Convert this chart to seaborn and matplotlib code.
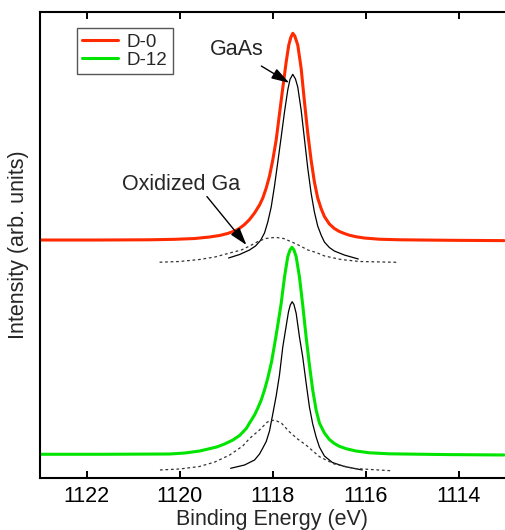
import numpy as np
import pandas as pd
import seaborn as sns
import matplotlib
matplotlib.use('Agg')
import matplotlib.pyplot as plt

# D-0 spectrum (red) and its fit components
d0_energy = [1123.000, 1121.712, 1120.639, 1120.103, 1119.674, 1119.352, 1119.137, 1118.966,
             1118.815, 1118.708, 1118.601, 1118.494, 1118.386, 1118.279, 1118.208, 1118.135,
             1118.064, 1117.994, 1117.921, 1117.850, 1117.779, 1117.706, 1117.650, 1117.607,
             1117.564, 1117.521, 1117.457, 1117.384, 1117.313, 1117.242, 1117.170, 1117.099,
             1117.028, 1116.955, 1116.884, 1116.777, 1116.670, 1116.562, 1116.455, 1116.348,
             1116.197, 1116.026, 1115.704, 1115.275, 1114.202, 1113.021]
d0_intensity = [51.07, 51.07, 51.12, 51.22, 51.39, 51.72, 52.04, 52.47,
                53.00, 53.58, 54.40, 55.47, 56.87, 58.58, 60.09, 62.23,
                64.81, 68.24, 72.53, 78.11, 83.69, 89.27, 92.92, 94.53,
                95.43, 94.85, 92.92, 87.92, 80.75, 74.03, 68.24, 63.52,
                60.09, 57.83, 56.12, 54.51, 53.54, 52.90, 52.47, 52.10,
                51.76, 51.50, 51.24, 51.12, 51.01, 50.94]

d0_gaas_energy = [1118.944, 1118.708, 1118.494, 1118.365, 1118.258, 1118.172, 1118.101, 1118.028,
                  1117.957, 1117.886, 1117.813, 1117.742, 1117.672, 1117.624, 1117.564, 1117.506,
                  1117.457, 1117.384, 1117.313, 1117.242, 1117.170, 1117.099, 1117.028, 1116.955,
                  1116.884, 1116.777, 1116.670, 1116.455, 1116.155]
d0_gaas_intensity = [47.21, 47.96, 48.93, 49.79, 50.97, 52.58, 54.94, 58.15,
                     62.66, 67.81, 73.18, 78.54, 83.26, 85.52, 86.63, 85.62,
                     83.91, 78.97, 72.75, 66.52, 61.16, 57.08, 54.08, 52.15,
                     50.64, 49.46, 48.71, 47.85, 47.00]

d0_ox_energy = [1120.47, 1120.00, 1119.57, 1119.24, 1118.92, 1118.67, 1118.49, 1118.32, 1118.15,
                1117.94, 1117.76, 1117.60, 1117.42, 1117.24, 1117.06, 1116.88, 1116.53, 1116.13,
                1115.34]
d0_ox_intensity = [46.29, 46.46, 46.89, 47.42, 48.28, 48.93, 49.79, 50.71, 51.39,
                   51.65, 51.39, 50.71, 49.89, 48.93, 48.39, 47.64, 46.89, 46.46,
                   46.29]

# D-12 spectrum (green) and its fit components
d12_energy = [1123.000, 1121.712, 1120.210, 1119.888, 1119.567, 1119.202, 1119.030, 1118.852,
              1118.708, 1118.564, 1118.494, 1118.386, 1118.315, 1118.242, 1118.172, 1118.101,
              1118.021, 1117.957, 1117.886, 1117.813, 1117.742, 1117.672, 1117.624, 1117.582,
              1117.539, 1117.491, 1117.421, 1117.350, 1117.277, 1117.206, 1117.135, 1117.062,
              1116.991, 1116.884, 1116.777, 1116.670, 1116.562, 1116.412, 1116.204, 1115.918,
              1115.489, 1114.202, 1113.021]
d12_intensity = [5.09, 5.09, 5.15, 5.36, 5.79, 6.65, 7.30, 8.15,
                 9.12, 10.62, 11.80, 13.52, 15.02, 16.74, 18.88, 21.46,
                 24.89, 28.54, 32.83, 37.49, 43.13, 47.49, 48.93, 49.51,
                 48.93, 47.49, 43.20, 37.12, 30.26, 24.25, 18.88, 14.59,
                 11.80, 9.66, 8.26, 7.40, 6.80, 6.27, 5.79, 5.41,
                 5.19, 5.02, 4.94]

d12_gaas_energy = [1118.901, 1118.601, 1118.386, 1118.279, 1118.208, 1118.135, 1118.064, 1117.994,
                   1117.921, 1117.850, 1117.779, 1117.706, 1117.657, 1117.618, 1117.577, 1117.539,
                   1117.491, 1117.421, 1117.350, 1117.277, 1117.206, 1117.135, 1117.062, 1116.991,
                   1116.884, 1116.712, 1116.455, 1116.069]
d12_gaas_intensity = [2.08, 2.79, 3.86, 5.15, 6.44, 7.83, 10.09, 13.73,
                      17.60, 22.10, 28.11, 32.62, 35.62, 37.12, 37.83, 37.23,
                      35.34, 30.32, 25.97, 20.39, 15.24, 11.59, 8.80, 6.65,
                      4.72, 3.33, 2.47, 1.72]

d12_ox_energy = [1120.42, 1120.00, 1119.57, 1119.24, 1118.92, 1118.64, 1118.49, 1118.28, 1118.11,
                 1117.96, 1117.81, 1117.64, 1117.46, 1117.28, 1116.99, 1116.67, 1116.24, 1115.47]
d12_ox_intensity = [1.72, 1.93, 2.47, 3.43, 4.94, 6.87, 8.52, 10.30, 12.02,
                    12.45, 11.80, 9.94, 8.37, 7.08, 4.57, 3.00, 2.04, 1.57]

xticks = [1122, 1120, 1118, 1116, 1114]

sns.set_style('white')
plt.rcParams['font.family'] = ['Liberation Sans', 'DejaVu Sans']

fig = plt.figure(figsize=(5.05, 5.30), dpi=100)
ax = fig.add_axes([40 / 505, 1 - 478 / 530, 465 / 505, 466 / 530])

red = '#ff2a00'
green = '#00e400'

sns.lineplot(x=d0_energy, y=d0_intensity, color=red, lw=2.2, label='D-0', ax=ax)
sns.lineplot(x=d12_energy, y=d12_intensity, color=green, lw=2.2, label='D-12', ax=ax)
sns.lineplot(x=d0_gaas_energy, y=d0_gaas_intensity, color='black', lw=0.9, legend=False, ax=ax)
sns.lineplot(x=d12_gaas_energy, y=d12_gaas_intensity, color='black', lw=0.9, legend=False, ax=ax)
sns.lineplot(x=d0_ox_energy, y=d0_ox_intensity, color='#333333', lw=0.9,
             linestyle=(0, (2.2, 2.2)), legend=False, ax=ax)
sns.lineplot(x=d12_ox_energy, y=d12_ox_intensity, color='#333333', lw=0.9,
             linestyle=(0, (2.2, 2.2)), legend=False, ax=ax)
for line in ax.lines:
    line.set_solid_joinstyle('round')

ax.set_xlim(1123, 1113)
ax.set_ylim(0, 100)
ax.set_xticks(xticks)
ax.set_yticks([])
ax.tick_params(axis='x', direction='in', top=True, bottom=True, length=5, width=1.4,
               labelsize=15.5, pad=6, colors='black')
for side in ['left', 'top', 'bottom']:
    ax.spines[side].set_color('black')
    ax.spines[side].set_linewidth(1.5)
ax.spines['right'].set_visible(False)

ax.set_xlabel('Binding Energy (eV)', fontsize=15.5, labelpad=1)
ax.set_ylabel('Intensity (arb. units)', fontsize=15.5, labelpad=8)

# annotations
arrow = dict(arrowstyle='-|>,head_length=0.9,head_width=0.28', color='black', lw=1.0,
             mutation_scale=12, shrinkA=0, shrinkB=0)
ax.text(1118.76, 91.85, 'GaAs', fontsize=15.5, ha='center', va='center')
ax.annotate('', xy=(1117.64, 84.8), xytext=(1118.24, 88.4), arrowprops=arrow)
ax.text(1119.97, 62.9, 'Oxidized Ga', fontsize=15.5, ha='center', va='center')
ax.annotate('', xy=(1118.56, 50.0), xytext=(1119.41, 60.4), arrowprops=arrow)

leg = ax.legend(loc='upper left', bbox_to_anchor=(0.079, 0.966), borderaxespad=0,
                fontsize=13.5, frameon=True, fancybox=False, framealpha=1,
                edgecolor='#555555', handlelength=1.9, handletextpad=0.45,
                labelspacing=0.05, borderpad=0.3)
leg.get_frame().set_linewidth(1.0)

fig.savefig('out.png', dpi=100)
